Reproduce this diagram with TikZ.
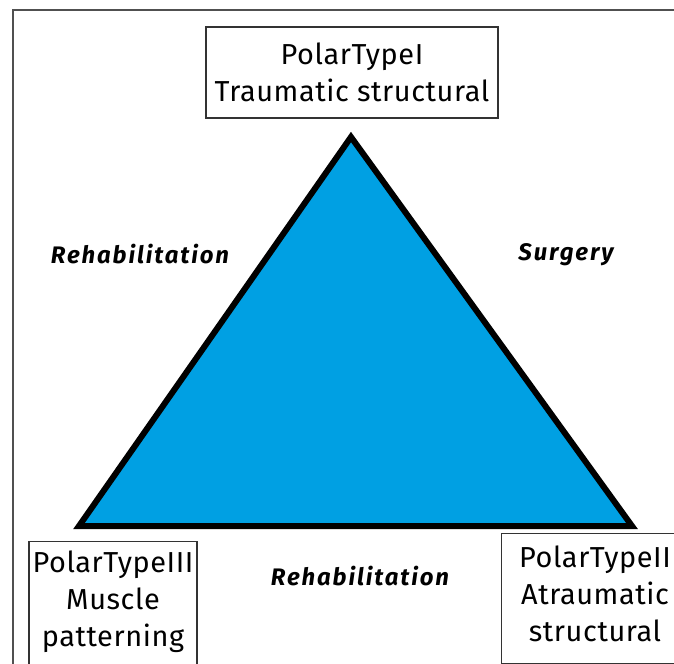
\documentclass[tikz,border=0pt]{standalone}
\usepackage{fontspec}
\setmainfont{Fira Sans}
\newfontfamily\boxfont[LetterSpace=2]{Fira Sans}
\newfontfamily\labfont[LetterSpace=8]{Fira Sans}
\definecolor{triblue}{RGB}{0,160,227}
\definecolor{framegrey}{RGB}{80,80,80}
\begin{document}
\begin{tikzpicture}[x=1bp,y=-1bp,
  polebox/.style={draw=black!80, line width=1.2bp, fill=white, align=center,
    font=\boxfont\fontsize{29}{37}\selectfont, inner sep=0pt},
  poletext/.style={font=\boxfont\fontsize{29}{37}\selectfont, align=center, anchor=north, inner sep=0pt},
  sidelabel/.style={font=\labfont\bfseries\itshape\fontsize{24}{28}\selectfont, inner sep=0pt}]
\path[use as bounding box] (0,0) rectangle (674,664);
\clip (0,0) rectangle (674,664);
\fill[white] (0,0) rectangle (674,664);
% outer frame (right and bottom sides lie outside the picture)
\coordinate (fbl) at (13,700);
\coordinate (ftl) at (13,10);
\coordinate (ftr) at (700,10);
\draw[framegrey, line width=1.6bp] (fbl) -- (ftl) -- (ftr);
% triangle
\coordinate (apex) at (351,137);
\coordinate (bl) at (79,526);
\coordinate (br) at (632,526);
\filldraw[fill=triblue, draw=black, line width=6bp, line join=miter]
  (apex) -- (bl) -- (br) -- cycle;
% boxes
\node[polebox, minimum width=292bp, minimum height=91bp] (top) at (352,72.5)
  {PolarTypeI\\Traumatic structural};
\node[polebox, minimum width=168bp, minimum height=150bp, anchor=north] (left) at (113,541) {};
\node[poletext] (lefttext) at (113,551) {PolarTypeIII\\Muscle\\patterning};
\node[polebox, minimum width=188bp, minimum height=130bp, anchor=north west] (right) at (501,533) {};
\node[poletext] (righttext) at (595,546) {PolarTypeII\\Atraumatic\\structural};
% labels
\node[sidelabel] (rehabL) at (140,254) {Rehabilitation};
\node[sidelabel] (surg) at (566,255) {Surgery};
\node[sidelabel] (rehabB) at (360,576) {Rehabilitation};
\end{tikzpicture}
\end{document}
